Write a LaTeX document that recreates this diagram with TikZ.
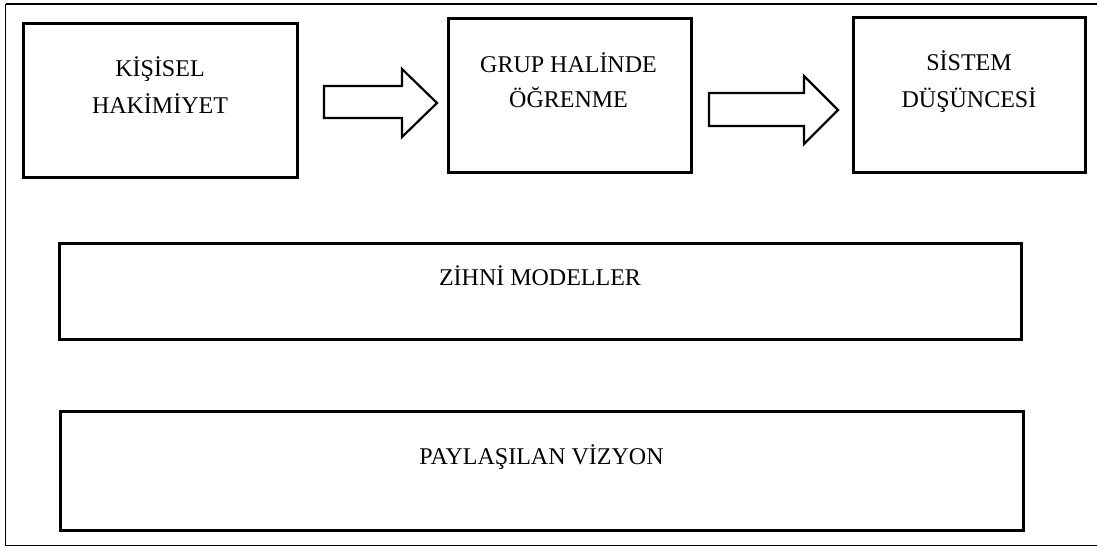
\documentclass[tikz,border=0pt]{standalone}
\usepackage{fontspec}
\setmainfont{Liberation Serif}
\begin{document}
\begin{tikzpicture}[x=1pt,y=-1pt,
  box/.style={draw=black,line width=3pt,fill=white},
  boxtext/.style={anchor=base,inner sep=0pt,font=\fontsize{24}{28}\selectfont},
  blockarrow/.style={draw=black,line width=2.2pt,line join=miter,fill=white}]
\useasboundingbox (0,0) rectangle (1097,547);
% page frame (open on the right)
\draw[line width=2.5pt] (5.5,4) -- (1097,4);
\draw[line width=1.2pt] (5.5,4) -- (5.5,545.5) -- (1097,545.5);

% top row of boxes
\draw[box] (23.5,23.5) rectangle (297,177);
\node[boxtext] (b1a) at (160,76) {KİŞİSEL};
\node[boxtext] (b1b) at (160,113) {HAKİMİYET};

\draw[box] (448,18) rectangle (691,172);
\node[boxtext] (b2a) at (568.5,72) {GRUP HALİNDE};
\node[boxtext] (b2b) at (568.5,107) {ÖĞRENME};

\draw[box] (853,17) rectangle (1085,172);
\node[boxtext] (b3a) at (969,70) {SİSTEM};
\node[boxtext] (b3b) at (969,107) {DÜŞÜNCESİ};

% block arrows between the top boxes
\draw[blockarrow] (324,86) -- (402,86) -- (402,69) -- (437,103) -- (402,137)
  -- (402,118) -- (324,118) -- cycle;
\draw[blockarrow] (709,93) -- (804,93) -- (804,76) -- (838,110) -- (804,144)
  -- (804,126) -- (709,126) -- cycle;

% wide boxes
\draw[box] (59,243) rectangle (1021,339);
\node[boxtext] (b4) at (540,285) {ZİHNİ MODELLER};

\draw[box] (60,411) rectangle (1023,530);
\node[boxtext] (b5) at (541.5,464) {PAYLAŞILAN VİZYON};
\end{tikzpicture}
\end{document}
